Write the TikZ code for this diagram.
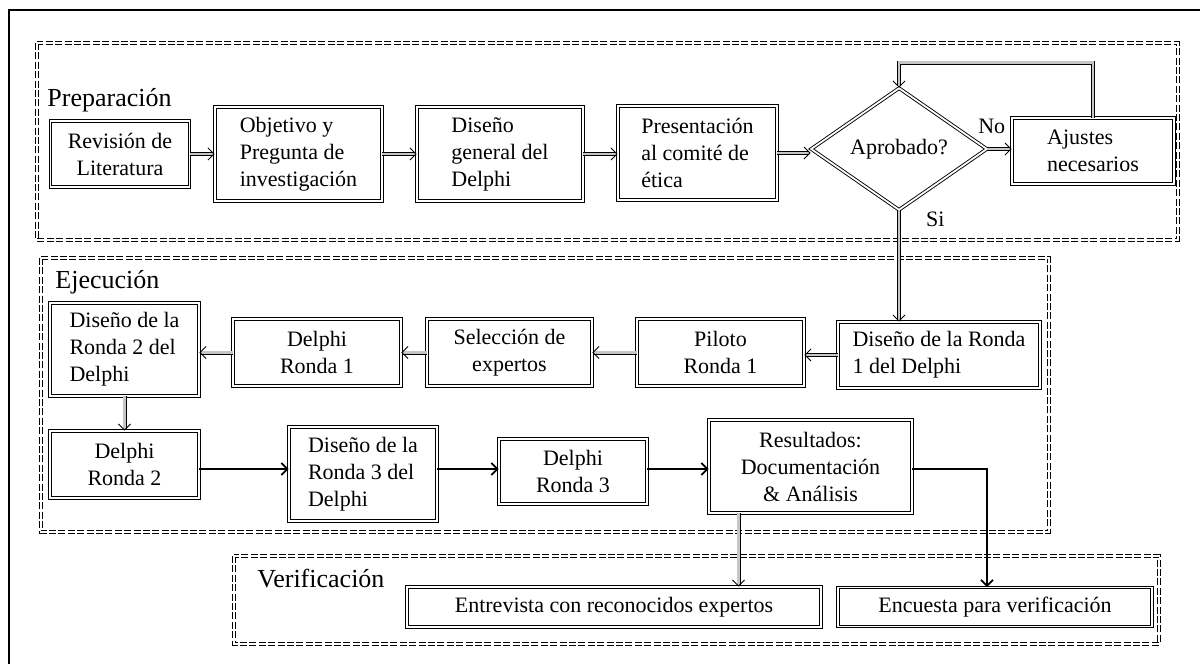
\documentclass[tikz,border=0pt]{standalone}
\usepackage{fontspec}
\setmainfont{Liberation Serif}
\usetikzlibrary{shapes, arrows.meta, positioning}

\begin{document}
\begin{tikzpicture}[x=0.5pt, y=-0.5pt, >={Straight Barb[length=3pt,width=6pt]}, font=\fontsize{11}{13.5}\selectfont,
    box/.style={draw, double, double distance=0.9pt, line width=0.45pt, inner sep=2pt},
    group/.style={draw, double, double distance=0.9pt, line width=0.45pt, dash pattern=on 3.5pt off 1.2pt},
    dline/.style={->, double=gray!45, double distance=1.1pt, line width=0.45pt},
    sline/.style={->, line width=0.9pt},
    title/.style={font=\fontsize{13}{15}\selectfont, anchor=west, inner sep=0pt}]
    \useasboundingbox (0,0) rectangle (1200,664);
    \draw[line width=0.8pt] (9,664) -- (9,10) -- (1200,10);

    \draw[group] (37,43) rectangle (1178,240);
    \draw[group] (41,258) rectangle (1049,532);
    \draw[group] (234,556) rectangle (1159,644);
    \node[title] (prep) at (47,100) {Preparación};
    \node[title] (ejec) at (55,282) {Ejecución};
    \node[title] (verif) at (257,579) {Verificación};

    \node[box, minimum width=69.5pt, minimum height=33pt, align=center] (rev-lit) at (120,154) {Revisión de\\Literatura};
    \node[box, minimum width=83.5pt, minimum height=47pt, align=left] (obj) at (298.5,154) {Objetivo y\\Pregunta de\\investigación};
    \node[box, minimum width=83pt, minimum height=47pt, align=left] (dis-gen) at (500,154) {Diseño\\general del\\Delphi};
    \node[box, minimum width=79.5pt, minimum height=47pt, align=left] (pres) at (697.5,153) {Presentación\\al comité de\\ética};
    \node[box, shape=diamond, minimum width=88pt, minimum height=61pt, inner sep=0pt] (aprob) at (899,149) {Aprobado?};
    \node[box, minimum width=81pt, minimum height=33pt, align=left] (ajustes) at (1093,151) {Ajustes\\necesarios};

    \node[box, minimum width=101pt, minimum height=33pt, align=left] (dis-r1) at (939,355) {Diseño de la Ronda\\1 del Delphi};
    \node[box, minimum width=83.5pt, minimum height=33.5pt, align=center] (piloto) at (720.5,352.5) {Piloto\\Ronda 1};
    \node[box, minimum width=82.5pt, minimum height=33.5pt, align=center] (selec) at (509.5,352.5) {Selección de\\expertos};
    \node[box, minimum width=84pt, minimum height=33.5pt, align=center] (del-r1) at (317,352.5) {Delphi\\Ronda 1};
    \node[box, minimum width=74.5pt, minimum height=46.5pt, align=left] (dis-r2) at (124.5,349.5) {Diseño de la\\Ronda 2 del\\Delphi};
    \node[box, minimum width=74.5pt, minimum height=33.5pt, align=center] (del-r2) at (124.5,464.5) {Delphi\\Ronda 2};
    \node[box, minimum width=74pt, minimum height=47pt, align=left] (dis-r3) at (363,474) {Diseño de la\\Ronda 3 del\\Delphi};
    \node[box, minimum width=74pt, minimum height=32.5pt, align=center] (del-r3) at (573,471.5) {Delphi\\Ronda 3};
    \node[box, minimum width=101.5pt, minimum height=46.5pt, align=center] (result) at (810.5,466.5) {Resultados:\\Documentación\\\& Análisis};

    \node[box, minimum width=207pt, minimum height=20pt] (entrev) at (614,607) {Entrevista con reconocidos expertos};
    \node[box, minimum width=157pt, minimum height=19.5pt] (encuesta) at (995,607) {Encuesta para verificación};

    \foreach \a/\b in {rev-lit/obj, obj/dis-gen, dis-gen/pres, pres/aprob} {
        \draw[dline] (\a.east) -- (\b.west |- \a.east);
    };
    \draw[dline] (aprob.east) -- (ajustes.west |- aprob.east) node[pos=0.18, above=4pt] (lbl-no) {No};
    \draw[dline] (ajustes.north) -- ++(0,-55) -| (aprob.north);
    \draw[dline] (aprob.south) -- (aprob.south |- dis-r1.north) node[pos=0.08, right=10pt] (lbl-si) {Si};

    \foreach \a/\b in {dis-r1/piloto, piloto/selec, selec/del-r1, del-r1/dis-r2} {
        \draw[dline] (\a.west) -- (\b.east |- \a.west);
    };
    \draw[dline] (dis-r2.south) -- (del-r2.north);

    \coordinate (row3) at (0,469);
    \foreach \a/\b in {del-r2/dis-r3, dis-r3/del-r3, del-r3/result} {
        \draw[sline] (\a.east |- row3) -- (\b.west |- row3);
    };
    \draw[dline] ([xshift=-36pt]result.south) -- ([xshift=-36pt]result.south |- entrev.north);
    \draw[sline] (result.east |- row3) -| ([xshift=-4pt]encuesta.north);
\end{tikzpicture}
\end{document}
